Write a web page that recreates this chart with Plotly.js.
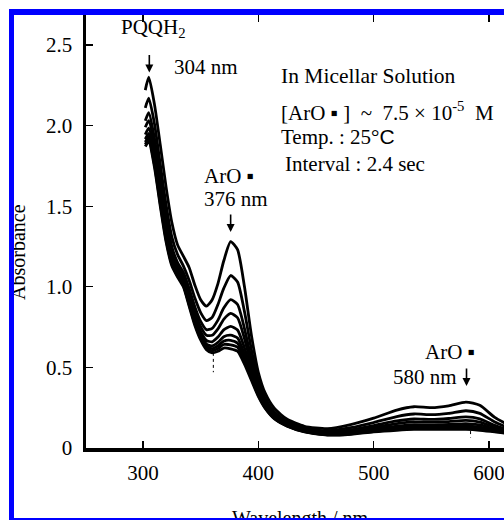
<!DOCTYPE html>
<html>
<head>
<meta charset="utf-8">
<script src="https://cdn.plot.ly/plotly-3.0.1.min.js"></script>
<style>
  html, body { margin: 0; padding: 0; background: #fff; width: 504px; height: 520px; overflow: hidden; }
  #frame { position: absolute; left: 9px; top: 9px; width: 495px; height: 511px; box-sizing: border-box;
           border-left: 5px solid #0000ff; border-top: 6px solid #0000ff; border-bottom: 2px solid #0000ff;
           overflow: hidden; background: #fff; }
  #chart { width: 490px; height: 503px; }
</style>
</head>
<body>
<div id="frame"><div id="chart"></div></div>
<script>
// Wavelength grid (nm)
const wavelength = [302,305,310,315,320,325,330,335,340,345,350,355,360,365,370,376,382,388,394,400,406,414,425,440,460,480,500,520,535,550,565,580,592,605,620];

// Absorbance spectra, recorded every 2.4 s (first = highest)
const spec1 = [2.22,2.30,2.13,1.88,1.62,1.40,1.26,1.19,1.12,1.01,0.92,0.88,0.92,1.02,1.16,1.28,1.23,1.00,0.70,0.47,0.34,0.245,0.178,0.135,0.12,0.145,0.185,0.235,0.256,0.25,0.262,0.285,0.265,0.19,0.13];
const spec2 = [2.11,2.17,2.01,1.76,1.51,1.31,1.20,1.13,1.04,0.93,0.84,0.79,0.81,0.89,0.99,1.07,1.03,0.846,0.61,0.422,0.31,0.224,0.164,0.124,0.107,0.126,0.158,0.195,0.211,0.207,0.215,0.231,0.215,0.161,0.116];
const spec3 = [2.03,2.08,1.92,1.675,1.44,1.25,1.15,1.09,0.99,0.875,0.785,0.734,0.742,0.793,0.868,0.92,0.89,0.741,0.549,0.389,0.289,0.21,0.155,0.116,0.098,0.113,0.139,0.168,0.18,0.177,0.183,0.193,0.181,0.141,0.106];
const spec4 = [1.99,2.03,1.87,1.625,1.39,1.22,1.126,1.063,0.959,0.843,0.753,0.699,0.699,0.739,0.798,0.835,0.808,0.678,0.512,0.37,0.276,0.201,0.149,0.112,0.093,0.105,0.128,0.151,0.162,0.16,0.164,0.171,0.161,0.13,0.10];
const spec5 = [1.944,1.984,1.822,1.58,1.351,1.187,1.102,1.04,0.93,0.813,0.723,0.667,0.659,0.688,0.733,0.755,0.732,0.621,0.479,0.352,0.265,0.194,0.144,0.107,0.088,0.098,0.118,0.136,0.145,0.143,0.146,0.151,0.143,0.119,0.094];
const spec6 = [1.916,1.952,1.791,1.549,1.324,1.165,1.086,1.025,0.911,0.793,0.703,0.645,0.633,0.655,0.69,0.70,0.682,0.582,0.456,0.34,0.257,0.188,0.141,0.105,0.085,0.093,0.111,0.126,0.133,0.133,0.134,0.137,0.13,0.112,0.091];
const spec7 = [1.898,1.932,1.771,1.53,1.307,1.152,1.076,1.015,0.899,0.78,0.69,0.632,0.616,0.634,0.663,0.668,0.65,0.558,0.442,0.332,0.253,0.185,0.138,0.103,0.083,0.09,0.107,0.12,0.126,0.126,0.127,0.129,0.122,0.107,0.089];
const spec8 = [1.884,1.916,1.756,1.515,1.294,1.141,1.068,1.008,0.89,0.77,0.68,0.621,0.603,0.617,0.642,0.64,0.625,0.539,0.431,0.326,0.249,0.183,0.137,0.101,0.082,0.087,0.103,0.115,0.121,0.12,0.121,0.122,0.116,0.104,0.087];
const spec9 = [1.87,1.90,1.74,1.50,1.28,1.13,1.06,1.00,0.88,0.76,0.67,0.61,0.59,0.60,0.62,0.615,0.60,0.52,0.42,0.32,0.245,0.18,0.135,0.10,0.08,0.085,0.10,0.11,0.115,0.115,0.115,0.115,0.11,0.10,0.085];

// Short dotted drop lines
const dropX1 = [361, 361];
const dropY1 = [0.59, 0.47];
const dropX2 = [584, 584];
const dropY2 = [0.105, 0.065];

// Marked band positions (arrow tips) and axis ticks
const arrowX = [305.5, 376, 580.5];
const arrowY = [2.33, 1.34, 0.385];
const xTicks = [300, 400, 500, 600];
const yTicks = [0, 0.5, 1.0, 1.5, 2.0, 2.5];
const yTickText = ["0", "0.5", "1.0", "1.5", "2.0", "2.5"];

const spectra = [spec1, spec2, spec3, spec4, spec5, spec6, spec7, spec8, spec9];

const serif = "Liberation Serif";
const traces = spectra.map(s => ({
  x: wavelength, y: s, type: 'scatter', mode: 'lines',
  line: {color: '#000', width: 2.8, shape: 'spline', smoothing: 0.6},
  hoverinfo: 'skip', showlegend: false
}));
traces.push({x: dropX1, y: dropY1, type: 'scatter', mode: 'lines', line: {color: '#000', width: 1, dash: 'dot'}, showlegend: false});
traces.push({x: dropX2, y: dropY2, type: 'scatter', mode: 'lines', xaxis: 'x2', line: {color: '#000', width: 1, dash: 'dot'}, showlegend: false});

// page-pixel helpers (chart div origin is at page (14,15))
const L = 72, T = 0, W = 490 - 72, H = 433;
const px = x => (x - 14 - L) / W;
const py = y => (H - (y - 15)) / H;

function ann(text, x, y, size, xanchor, extra) {
  return Object.assign({text: text, x: px(x), y: py(y), xref: 'paper', yref: 'paper',
    showarrow: false, xanchor: xanchor || 'left', yanchor: 'middle',
    font: {family: serif, size: size, color: '#000'}}, extra || {});
}
function arrow(i) {
  return {x: arrowX[i], y: arrowY[i], xref: 'x', yref: 'y', text: '', showarrow: true,
    ax: 0, ay: -19, arrowhead: 2, arrowsize: 1, arrowwidth: 1.6, arrowcolor: '#000', standoff: 0};
}

const xr = [250.6, 613.0];
const tickFont = {family: serif, size: 21, color: '#000'};
const layout = {
  width: 490, height: 503,
  margin: {l: L, r: 0, t: T, b: 503 - H},
  paper_bgcolor: '#fff', plot_bgcolor: '#fff',
  font: {family: serif, size: 20, color: '#000'},
  showlegend: false,
  xaxis: {range: xr, tickvals: xTicks, ticktext: xTicks.map(String), ticks: 'inside', ticklen: 7, tickwidth: 1.3, tickcolor: '#000',
          showline: true, linewidth: 3.5, linecolor: '#000', showgrid: false, zeroline: false,
          tickfont: tickFont, ticklabeloverflow: 'allow', ticklabelstandoff: 3},
  xaxis2: {range: xr, overlaying: 'x', side: 'top', anchor: 'y', tickvals: xTicks, ticks: 'inside', ticklen: 7,
           tickwidth: 1.3, tickcolor: '#000', showline: false, showgrid: false, zeroline: false, showticklabels: false},
  yaxis: {range: [0, 2.686], tickvals: yTicks, ticktext: yTickText, ticks: 'inside', ticklen: 7, tickwidth: 1.3,
          tickcolor: '#000', showline: true, linewidth: 3.5, linecolor: '#000', showgrid: false, zeroline: false,
          tickfont: tickFont, ticklabelstandoff: 6},
  annotations: [
    ann('Absorbance', 18, 252, 20, 'center', {textangle: -90}),
    ann('Wavelength / nm', 300, 518, 20, 'center'),
    ann('PQQH<sub>2</sub>', 119, 28, 21),
    ann('304 nm', 172, 67, 21),
    ann('In Micellar Solution', 279, 76, 21.5),
    ann('[ArO ▪ ]  ~  7.5 × 10<sup>-5</sup>  M', 279, 112, 21),
    ann('Temp. : 25°<span style="font-family:Liberation Sans">C</span>', 279, 137, 21),
    ann('Interval : 2.4 sec', 283, 164, 21),
    ann('ArO ▪', 202, 176, 21),
    ann('376 nm', 202, 199, 21),
    ann('ArO ▪', 423, 352, 21),
    ann('580 nm', 391, 377, 21),
    arrow(0), arrow(1), arrow(2)
  ]
};

Plotly.newPlot('chart', traces, layout, {staticPlot: true, displayModeBar: false});
</script>
</body>
</html>
